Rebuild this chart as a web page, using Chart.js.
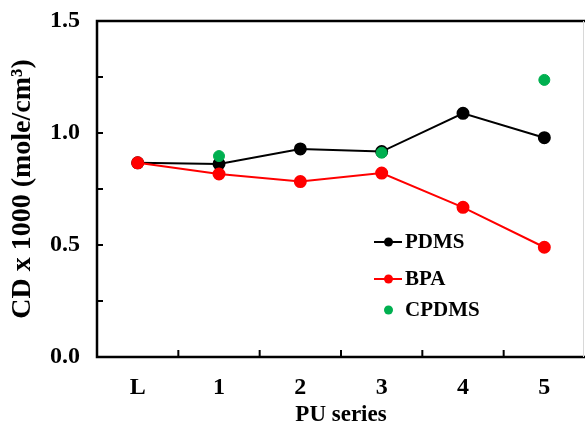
<!DOCTYPE html>
<html>
<head>
<meta charset="utf-8">
<script src="https://cdn.jsdelivr.net/npm/chart.js@4/dist/chart.umd.min.js"></script>
<style>
html,body{margin:0;padding:0;background:#fff;overflow:hidden;}
#wrap{width:585px;height:429px;position:relative;}
</style>
</head>
<body>
<div id="wrap"><canvas id="c" width="585" height="429"></canvas></div>
<script>
const categories = ['L', '1', '2', '3', '4', '5'];
const pdms  = [0.867, 0.862, 0.929, 0.917, 1.088, 0.979];
const bpa   = [0.867, 0.817, 0.783, 0.821, 0.668, 0.490];
const cpdms = [null, 0.897, null, 0.912, null, 1.237];
const yTicks = [0, 0.5, 1.0, 1.5];
const yMinorStep = 0.25;

const FONT = "'Liberation Serif', 'Times New Roman', serif";

const framePlugin = {
  id: 'frame',
  beforeDatasetsDraw(chart) {
    const {ctx, chartArea: a, scales: {x, y}} = chart;
    ctx.save();
    ctx.strokeStyle = '#000';
    ctx.lineWidth = 2.5;
    ctx.beginPath();
    ctx.moveTo(a.right + 2, a.top);
    ctx.lineTo(a.left, a.top);
    ctx.lineTo(a.left, a.bottom);
    ctx.lineTo(a.right + 2, a.bottom);
    ctx.stroke();
    ctx.strokeStyle = '#d8d8d8';
    ctx.lineWidth = 1;
    ctx.beginPath();
    ctx.moveTo(a.right - 1.5, a.top);
    ctx.lineTo(a.right - 1.5, a.bottom);
    ctx.stroke();
    ctx.strokeStyle = '#000';
    ctx.lineWidth = 2;
    for (let v = y.min; v <= y.max + 1e-9; v += yMinorStep) {
      const py = y.getPixelForValue(v);
      ctx.beginPath();
      ctx.moveTo(a.left, py);
      ctx.lineTo(a.left + 6, py);
      ctx.stroke();
    }
    for (let i = 0; i < categories.length - 1; i++) {
      const px = (x.getPixelForValue(i) + x.getPixelForValue(i + 1)) / 2;
      ctx.beginPath();
      ctx.moveTo(px, a.bottom);
      ctx.lineTo(px, a.bottom - 7);
      ctx.stroke();
    }
    ctx.restore();
  }
};

const legendItems = [
  {label: 'PDMS', color: '#000000', line: true},
  {label: 'BPA', color: '#ff0000', line: true},
  {label: 'CPDMS', color: '#00b050', line: false}
];

const legendPlugin = {
  id: 'customLegend',
  afterDatasetsDraw(chart) {
    const {ctx} = chart;
    const x0 = 374, ys = [242, 279, 310];
    ctx.save();
    ctx.font = "bold 21px " + FONT;
    ctx.textBaseline = 'middle';
    ctx.textAlign = 'left';
    legendItems.forEach((it, i) => {
      const yy = ys[i];
      ctx.strokeStyle = it.color;
      ctx.fillStyle = it.color;
      if (it.line) {
        ctx.lineWidth = 2;
        ctx.beginPath();
        ctx.moveTo(x0, yy);
        ctx.lineTo(x0 + 28, yy);
        ctx.stroke();
      }
      ctx.beginPath();
      ctx.arc(x0 + 14.5, yy, 4.5, 0, Math.PI * 2);
      ctx.fill();
      ctx.fillStyle = '#000';
      ctx.fillText(it.label, x0 + 31, yy + 1);
    });
    ctx.restore();
  }
};

new Chart(document.getElementById('c'), {
  type: 'line',
  data: {
    labels: categories,
    datasets: [
      {label: 'PDMS', data: pdms, borderColor: '#000', backgroundColor: '#000',
       borderWidth: 2, pointRadius: 5.5, pointHoverRadius: 5.5, order: 3, tension: 0},
      {label: 'BPA', data: bpa, borderColor: '#ff0000', backgroundColor: '#ff0000',
       borderWidth: 2, pointRadius: 5.5, pointHoverRadius: 5.5, order: 2, tension: 0},
      {label: 'CPDMS', data: cpdms, borderColor: '#00b050', backgroundColor: '#00b050',
       showLine: false, pointRadius: 5.5, pointHoverRadius: 5.5, order: 1}
    ]
  },
  options: {
    responsive: false,
    animation: false,
    events: [],
    layout: {autoPadding: false, padding: {top: 21, right: 0, left: 0, bottom: 0}},
    plugins: {legend: {display: false}, tooltip: {enabled: false}},
    scales: {
      x: {
        type: 'category',
        offset: true,
        grid: {display: false, drawTicks: false},
        border: {display: false},
        ticks: {color: '#000', font: {family: FONT, size: 24, weight: 'bold'}, padding: 16, maxRotation: 0},
        title: {display: true, text: 'PU series', color: '#000',
                font: {family: FONT, size: 23, weight: 'bold'}, padding: {top: 0, bottom: 0}},
        afterFit(s) { s.height = 72; s.paddingLeft = 0; s.paddingRight = 0; }
      },
      y: {
        min: 0, max: 1.5,
        grid: {display: false, drawTicks: false},
        border: {display: false},
        afterBuildTicks(s) { s.ticks = yTicks.map(v => ({value: v})); },
        ticks: {color: '#000', font: {family: FONT, size: 24, weight: 'bold'}, padding: 17,
                callback: v => Number(v).toFixed(1)},
        title: {display: true, text: 'CD x 1000 (mole/cm³)', color: '#000',
                font: {family: FONT, size: 28, weight: 'bold'}, padding: {top: 6, bottom: 0}},
        afterFit(s) { s.width = 97; s.paddingTop = 0; s.paddingBottom = 0; }
      }
    }
  },
  plugins: [framePlugin, legendPlugin]
});
</script>
</body>
</html>
